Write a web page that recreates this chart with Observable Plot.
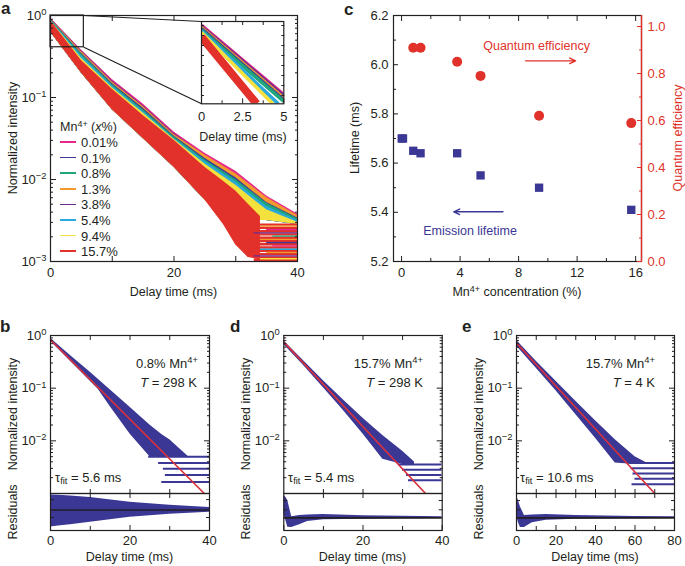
<!DOCTYPE html>
<html>
<head>
<meta charset="utf-8">
<script src="https://cdn.jsdelivr.net/npm/d3@7"></script>
<script src="https://cdn.jsdelivr.net/npm/@observablehq/plot@0.6"></script>
<style>
html,body{margin:0;padding:0;background:#fff;}
#root{position:relative;width:685px;height:566px;overflow:hidden;background:#fff;font-family:"Liberation Sans",Arial,Helvetica,sans-serif;color:#231f20;}
#root sup{font-size:0.72em;line-height:0;vertical-align:0.45em;}
#root sub{font-size:0.72em;line-height:0;vertical-align:-0.25em;}
</style>
</head>
<body>
<div id="root"></div>
<script>
const FONT = '"Liberation Sans", Arial, Helvetica, sans-serif';
const INK = "#231f20", BLUE = "#3b3795", RED = "#e0322a", FITRED = "#d9303c";

// ---------- legend / series ----------
const concLabels = ["0.01%","0.1%","0.8%","1.3%","3.8%","5.4%","9.4%","15.7%"];
const concColors = ["#e5288c","#3c3a9c","#1fa67a","#f39a2c","#6b2c90","#2ba9dc","#f4e13e","#e2312a"];

// ---------- panel a : log10(normalized intensity) envelopes ----------
const aT        = [0, 5, 10, 15, 20, 25, 30, 35, 40];
const aTop001   = [-0.030, -0.42, -0.78, -1.08, -1.42, -1.68, -1.90, -2.20, -2.42];
const aTop38    = [-0.035, -0.43, -0.80, -1.10, -1.44, -1.71, -1.94, -2.24, -2.45];
const aTop13    = [-0.040, -0.44, -0.81, -1.11, -1.45, -1.70, -1.93, -2.22, -2.44];
const aTop01    = [-0.045, -0.46, -0.83, -1.13, -1.47, -1.74, -1.98, -2.28, -2.47];
const aTop08    = [-0.050, -0.47, -0.84, -1.15, -1.48, -1.76, -2.00, -2.29, -2.48];
const aTop54    = [-0.055, -0.49, -0.86, -1.17, -1.50, -1.78, -2.03, -2.33, -2.50];
const aTop94    = [-0.060, -0.52, -0.88, -1.19, -1.51, -1.81, -2.07, -2.37, -2.52];
const aOtherBot = [-0.20, -0.70, -1.15, -1.50, -1.85, -2.25, -2.50, -2.50, -2.55];
const aRedT     = [0, 5, 10, 15, 20, 25, 28, 30, 32, 34];
const aRedTop   = [-0.06, -0.55, -0.90, -1.22, -1.52, -1.85, -2.02, -2.14, -2.30, -2.45];
const aRedBot   = [-0.20, -0.70, -1.15, -1.50, -1.85, -2.25, -2.55, -2.80, -2.95, -2.98];
const aRedStripeV = [0.00282,0.00257,0.00234,0.00214,0.00195,0.00178,0.00162,0.00148,0.00135,0.00123,0.00112,0.00104];
const aRedStripeT = [30,30.5,31,31,31.5,31.5,32,32,32.5,32.5,33,33];
const aOtherStripeV = [0.0027,0.00245,0.00224,0.00204,0.00186,0.0017,0.00155,0.00141,0.00129,0.00117,0.00108];
const aOtherStripeS = ["1.3%","0.01%","3.8%","0.8%","1.3%","0.1%","0.01%","5.4%","1.3%","3.8%","9.4%"];
const aOtherStripeT = [34,35,33,36,34,35,36,34,35,33,34];
const aTmax = 40;

// inset of panel a (linear scale, first 5 ms)
const insetS  = ["0.01%","3.8%","1.3%","0.1%","0.8%","5.4%","9.4%","15.7%"];
const insetV0 = [1.0, 0.99, 0.978, 0.966, 0.955, 0.944, 0.93, 0.885];
const insetT1 = [5, 5, 5, 5, 5, 4.66, 4.33, 3.35];
const insetV1 = [0.307, 0.293, 0.273, 0.253, 0.24, 0.217, 0.217, 0.217];

// ---------- panel c ----------
const cConc     = [0.01, 0.1, 0.8, 1.3, 3.8, 5.4, 9.4, 15.7];
const cLifetime = [5.70, 5.70, 5.65, 5.64, 5.64, 5.55, 5.50, 5.41];
const cQEConc   = [0.8, 1.3, 3.8, 5.4, 9.4, 15.7];
const cQE       = [0.91, 0.91, 0.85, 0.79, 0.62, 0.589];

// ---------- panels b, d, e (log10 envelopes, fit end points, residual envelopes) ----------
const bT  = [0, 5, 10, 12, 15, 20, 25, 28, 30, 35];
const bHi = [-0.05, -0.38, -0.70, -0.83, -1.03, -1.36, -1.70, -1.88, -1.98, -2.32];
const bLo = [-0.11, -0.49, -0.87, -1.02, -1.35, -1.87, -2.30, -2.30, -2.30, -2.32];
const bStripeV = [0.0050, 0.0038, 0.00295, 0.00224, 0.00166];
const bStripeT = [24.7, 27.2, 28.4, 28.9, 28];
const bFitT = [0, 38.7], bFitV = [0.83, 0.001];
const bResT  = [0, 2, 5, 10, 20, 30, 40];
const bResHi = [0.91, 0.90, 0.85, 0.75, 0.47, 0.28, 0.15];
const bResLo = [-1.03, -0.98, -0.90, -0.75, -0.44, -0.26, -0.14];

const dT  = [0, 5, 10, 15, 20, 25, 30, 33];
const dHi = [-0.10, -0.48, -0.86, -1.22, -1.57, -1.90, -2.20, -2.40];
const dLo = [-0.17, -0.57, -0.99, -1.42, -1.87, -2.35, -2.45, -2.45];
const dStripeV = [0.00355, 0.00282, 0.00224, 0.00178];
const dStripeT = [29, 30, 31, 31.5];
const dFitT = [0, 35.8], dFitV = [0.75, 0.001];
const dResT  = [0, 0.5, 1, 2, 4, 6, 10, 20, 30, 40];
const dResHi = [0.92, 0.85, 0.71, 0.05, 0.10, 0.12, 0.14, 0.09, 0.07, 0.05];
const dResLo = [0.16, -0.10, -0.39, -0.40, -0.28, -0.15, -0.08, -0.06, -0.04, -0.03];

const eT  = [0, 10, 20, 30, 40, 50, 60, 66];
const eHi = [-0.09, -0.49, -0.87, -1.25, -1.62, -1.98, -2.30, -2.42];
const eLo = [-0.20, -0.62, -1.05, -1.50, -1.95, -2.42, -2.45, -2.45];
const eStripeV = [0.0038, 0.0030, 0.0024, 0.0019, 0.0015];
const eStripeT = [57, 58, 59, 60, 58.5];
const eFitT = [0, 70], eFitV = [0.72, 0.001];
const eResT  = [0, 1, 2, 4, 8, 15, 30, 60, 80];
const eResHi = [0.92, 0.70, 0.45, 0.10, 0.12, 0.14, 0.10, 0.06, 0.05];
const eResLo = [0.10, -0.20, -0.40, -0.40, -0.20, -0.10, -0.06, -0.04, -0.03];

// ---------- helpers ----------
const root = document.getElementById("root");
const NS = "http://www.w3.org/2000/svg";
function supify(svg) {
  svg.querySelectorAll("text").forEach(t => {
    const s = t.textContent;
    if (s.includes("^")) {
      const [b, e] = s.split("^");
      t.textContent = "";
      const a = document.createElementNS(NS, "tspan"); a.textContent = b;
      const c = document.createElementNS(NS, "tspan"); c.textContent = e;
      c.setAttribute("dy", "-0.5em"); c.setAttribute("font-size", "0.72em");
      t.append(a, c);
    }
  });
}
function mount(svg, left, top) {
  svg.style.position = "absolute"; svg.style.left = left + "px"; svg.style.top = top + "px";
  root.appendChild(svg); supify(svg); return svg;
}
function base(w, h, mL, mR, mT, mB, color = INK) {
  return {width: w, height: h, marginLeft: mL, marginRight: mR, marginTop: mT, marginBottom: mB,
    style: {background: "transparent", fontFamily: FONT, fontSize: "13px", color, overflow: "visible"}};
}
function tk(dim, anchor, ticks, size, fmt = null, gap = 0) {
  const f = dim === "x" ? Plot.axisX : Plot.axisY;
  return f({anchor, ticks, tickSize: -size, tickPadding: gap + size, tickFormat: fmt || (() => ""), label: null, strokeWidth: 1});
}
function label(html, x, y, {anchor = "middle", rotate = 0, color = INK, size = 12.5, weight = 400} = {}) {
  const d = document.createElement("div");
  d.innerHTML = html;
  const tx = anchor === "middle" ? "-50%" : anchor === "end" ? "-100%" : "0";
  d.style.cssText = `position:absolute;left:${x}px;top:${y}px;white-space:nowrap;line-height:1;font-size:${size}px;font-weight:${weight};color:${color};transform:translate(${tx},-50%)${rotate ? ` rotate(${rotate}deg)` : ""};`;
  root.appendChild(d);
}
const pow10 = d => { const e = Math.round(Math.log10(d)); return "10^" + (e === 0 ? "0" : "\u2212" + (-e)); };
const logMajor = [1, 0.1, 0.01, 0.001];
const logMinor = [0.001, 0.01, 0.1].flatMap(d => [2,3,4,5,6,7,8,9].map(k => k * d));
const colorScale = {domain: concLabels, range: concColors};

// ---------- panel a ----------
const INSET = {left: 201, right: 283.3, top: 21, bottom: 103.3};
const sxA = Plot.scale({x: {domain: [0, 40], range: [50, 297]}});
const syA = Plot.scale({y: {type: "log", domain: [1e-3, 1], range: [261, 15]}});
const zoomBox = [{t0: 0, t1: 5.4, v0: 0.41, v1: 1}];
const zoomLinks = [
  {x1: 5.4, y1: 1, x2: sxA.invert(INSET.left), y2: syA.invert(INSET.top)},
  {x1: 5.4, y1: 0.41, x2: sxA.invert(INSET.left), y2: syA.invert(INSET.bottom)}
];
const aSeries = [["0.01%", aTop001], ["3.8%", aTop38], ["1.3%", aTop13], ["0.1%", aTop01],
                 ["0.8%", aTop08], ["5.4%", aTop54], ["9.4%", aTop94]];
const aAreas = aSeries.map(([s, tops]) =>
  Plot.areaY(aT.map((t, i) => ({t, s, lo: 10 ** aOtherBot[i], hi: 10 ** tops[i]})),
    {x: "t", y1: "lo", y2: "hi", fill: "s", clip: true}));
const aRedRows = aRedT.map((t, i) => ({t, s: "15.7%", lo: 10 ** aRedBot[i], hi: 10 ** aRedTop[i]}));
const aRedStripes = aRedStripeV.map((v, i) => ({v, t0: aRedStripeT[i], t1: aTmax, s: "15.7%"}));
const aOtherStripes = aOtherStripeV.map((v, i) => ({v, t0: aOtherStripeT[i], t1: aTmax, s: aOtherStripeS[i]}));

const plotA = Plot.plot({
  ...base(340, 300, 50, 43, 15, 39),
  x: {domain: [0, 40]}, y: {type: "log", domain: [1e-3, 1]}, color: colorScale,
  marks: [
    ...aAreas,
    Plot.areaY(aRedRows, {x: "t", y1: "lo", y2: "hi", fill: "s", clip: true}),
    Plot.ruleY(aRedStripes, {y: "v", x1: "t0", x2: "t1", stroke: "s", strokeWidth: 2.4, clip: true}),
    Plot.ruleY(aOtherStripes, {y: "v", x1: "t0", x2: "t1", stroke: "s", strokeWidth: 1.3, clip: true}),
    Plot.rect(zoomBox, {x1: "t0", x2: "t1", y1: "v0", y2: "v1", fill: "none", stroke: INK, strokeWidth: 1.2}),
    Plot.link(zoomLinks, {x1: "x1", y1: "y1", x2: "x2", y2: "y2", stroke: INK, strokeWidth: 1.2}),
    Plot.frame({stroke: INK, strokeWidth: 1.2}),
    tk("y", "left", logMajor, 6, pow10, 4),
    tk("y", "left", logMinor, 3),
    tk("y", "right", logMajor, 6),
    tk("y", "right", logMinor, 3),
    tk("x", "bottom", [0, 20, 40], 5, d => String(d), 6),
    tk("x", "bottom", [10, 30], 5),
    tk("x", "top", [10, 20, 30], 5)
  ]
});
mount(plotA, 0, 0);

const insetRows = insetS.map((s, i) => [{t: 0, v: insetV0[i], s}, {t: insetT1[i], v: insetV1[i], s}]);
const plotInset = Plot.plot({
  ...base(115, 140, INSET.left - 190, 190 + 115 - INSET.right, INSET.top - 15, 140 - (INSET.bottom - 15)),
  x: {domain: [0, 5]}, y: {domain: [0.217, 1.04]}, color: colorScale,
  marks: [
    Plot.frame({fill: "white", stroke: null}),
    ...insetRows.map(rows => Plot.line(rows, {x: "t", y: "v", stroke: "s",
      strokeWidth: rows[0].s === "15.7%" ? 8 : 3.6, strokeLinecap: "butt", clip: true})),
    Plot.frame({stroke: INK, strokeWidth: 1.2}),
    tk("x", "bottom", [0, 2.5, 5], 5, d => String(d), 8),
    tk("x", "bottom", [1.25, 3.75], 3),
    tk("x", "top", [1.25, 2.5, 3.75], 3),
    tk("y", "left", [0.3, 0.4, 0.5, 0.6, 0.7, 0.8, 0.9, 1.0], 3),
    tk("y", "right", [0.3, 0.4, 0.5, 0.6, 0.7, 0.8, 0.9, 1.0], 3)
  ]
});
mount(plotInset, 190, 15);

label("Normalized intensity", 13, 138, {rotate: -90});
label("Delay time (ms)", 173.5, 291.5);
label("Delay time (ms)", 243, 136.5);
label("Mn<sup>4+</sup> (<i>x</i>%)", 60, 127, {anchor: "start"});
concLabels.forEach((l, i) => {
  const y = 142 + i * 15.6;
  const ln = document.createElement("div");
  ln.style.cssText = `position:absolute;left:60px;top:${y - 0.8}px;width:16px;height:1.6px;background:${concColors[i]};`;
  root.appendChild(ln);
  label(l, 81, y, {anchor: "start", size: 13});
});

// ---------- panel c ----------
const cRows = cConc.map((c, i) => ({c, life: cLifetime[i]}));
const cQERows = cQEConc.map((c, i) => ({c, q: cQE[i]}));
const cArrowEL = [{x1: 6.93, x2: 3.57, y: 5.402}];
const cTextEL = [{x: 4.68, y: 5.322, text: "Emission lifetime"}];
const cArrowQE = [{x1: 8.48, x2: 11.9, y: 0.854}];
const cTextQE = [{x: 9.23, y: 0.918, text: "Quantum efficiency"}];
const cX = {domain: [-0.55, 16.4]};
const f1 = d3.format(".1f");

const plotC = Plot.plot({
  ...base(345, 300, 53, 44, 15, 39),
  x: cX, y: {domain: [5.2, 6.2]},
  marks: [
    Plot.frame({stroke: INK, strokeWidth: 1.2}),
    Plot.dot(cRows, {x: "c", y: "life", symbol: "square", r: 4.7, fill: BLUE}),
    Plot.arrow(cArrowEL, {x1: "x1", x2: "x2", y1: "y", y2: "y", stroke: BLUE, strokeWidth: 1.4, headLength: 7, headAngle: 50}),
    Plot.text(cTextEL, {x: "x", y: "y", text: "text", fill: BLUE, fontSize: 12.5}),
    tk("x", "bottom", [0, 4, 8, 12, 16], 5, d => String(d), 6),
    tk("x", "bottom", [2, 6, 10, 14], 3),
    tk("x", "top", [0, 4, 8, 12, 16], 5),
    tk("x", "top", [2, 6, 10, 14], 3),
    tk("y", "left", [5.2, 5.4, 5.6, 5.8, 6.0, 6.2], 5, f1, 5),
    tk("y", "left", [5.3, 5.5, 5.7, 5.9, 6.1], 3)
  ]
});
mount(plotC, 340, 0);

const plotC2 = Plot.plot({
  ...base(345, 300, 53, 44, 15, 39, RED),
  x: {...cX, axis: null}, y: {domain: [0, 1.047]},
  marks: [
    Plot.ruleX([16.4], {stroke: RED, strokeWidth: 1.4}),
    Plot.dot(cQERows, {x: "c", y: "q", r: 5, fill: RED}),
    Plot.arrow(cArrowQE, {x1: "x1", x2: "x2", y1: "y", y2: "y", stroke: RED, strokeWidth: 1.4, headLength: 7, headAngle: 50}),
    Plot.text(cTextQE, {x: "x", y: "y", text: "text", fill: RED, fontSize: 12.5}),
    tk("y", "right", [0, 0.2, 0.4, 0.6, 0.8, 1.0], 5, f1, 6),
    tk("y", "right", [0.1, 0.3, 0.5, 0.7, 0.9], 3)
  ]
});
mount(plotC2, 340, 0);

label("Lifetime (ms)", 355, 138, {rotate: -90});
label("Quantum efficiency", 678, 138, {rotate: -90, color: RED});
label("Mn<sup>4+</sup> concentration (%)", 517, 291.5);

// ---------- panels b, d, e ----------
function decay(cfg) {
  const {svgLeft, svgWidth, frameL, frameR, xmax, xLab, xMinor, T, Hi, Lo, SV, ST, FT, FV, RT, RHi, RLo, resDomain, resTicks} = cfg;
  const mL = frameL - svgLeft, mR = svgLeft + svgWidth - frameR;
  const band = T.map((t, i) => ({t, lo: 10 ** Lo[i], hi: 10 ** Hi[i]}));
  const stripes = SV.map((v, i) => ({v, t0: ST[i], t1: xmax}));
  const fit = FT.map((t, i) => ({t, v: FV[i]}));
  const res = RT.map((t, i) => ({t, lo: RLo[i], hi: RHi[i]}));
  const allX = [...xLab, ...xMinor].filter(d => d > 0 && d < xmax);
  const main = Plot.plot({
    ...base(svgWidth, 166, mL, mR, 5, 3),
    x: {domain: [0, xmax]}, y: {type: "log", domain: [1e-3, 1]},
    marks: [
      Plot.areaY(band, {x: "t", y1: "lo", y2: "hi", fill: BLUE, clip: true}),
      Plot.ruleY(stripes, {y: "v", x1: "t0", x2: "t1", stroke: BLUE, strokeWidth: 2, clip: true}),
      Plot.line(fit, {x: "t", y: "v", stroke: FITRED, strokeWidth: 1.6, clip: true}),
      Plot.frame({stroke: INK, strokeWidth: 1.2}),
      tk("y", "left", [1, 0.1, 0.01], 6, pow10, 4),
      tk("y", "left", logMinor, 3),
      tk("y", "right", [1, 0.1, 0.01], 6),
      tk("y", "right", logMinor, 3),
      tk("x", "top", allX, 4),
      tk("x", "bottom", allX, 4)
    ]
  });
  mount(main, svgLeft, 330);
  const resid = Plot.plot({
    ...base(svgWidth, 76, mL, mR, 3, 36),
    x: {domain: [0, xmax]}, y: {domain: resDomain},
    marks: [
      Plot.areaY(res, {x: "t", y1: "lo", y2: "hi", fill: BLUE, clip: true}),
      Plot.ruleY([0], {stroke: INK, strokeWidth: 1.6}),
      Plot.frame({stroke: INK, strokeWidth: 1.2}),
      tk("y", "left", resTicks, 4),
      tk("y", "right", resTicks, 4),
      tk("x", "top", allX, 4),
      tk("x", "bottom", xLab, 5, d => String(d), 5),
      tk("x", "bottom", xMinor, 4)
    ]
  });
  mount(resid, svgLeft, 490);
  const yl = frameL - 37;
  label("Normalized intensity", yl, 414, {rotate: -90});
  label("Residuals", yl, 511.5, {rotate: -90});
  label("Delay time (ms)", (frameL + frameR) / 2, 557);
}

decay({svgLeft: 0, svgWidth: 225, frameL: 50, frameR: 209, xmax: 40, xLab: [0, 20, 40], xMinor: [10, 30],
  T: bT, Hi: bHi, Lo: bLo, SV: bStripeV, ST: bStripeT, FT: bFitT, FV: bFitV,
  RT: bResT, RHi: bResHi, RLo: bResLo, resDomain: [-1.25, 1], resTicks: [-0.46, 0.63]});
decay({svgLeft: 228, svgWidth: 228, frameL: 283.3, frameR: 441.7, xmax: 40, xLab: [0, 20, 40], xMinor: [10, 30],
  T: dT, Hi: dHi, Lo: dLo, SV: dStripeV, ST: dStripeT, FT: dFitT, FV: dFitV,
  RT: dResT, RHi: dResHi, RLo: dResLo, resDomain: [-0.52, 1], resTicks: [0.33, 0.71]});
decay({svgLeft: 458, svgWidth: 227, frameL: 516, frameR: 674, xmax: 80, xLab: [0, 20, 40, 60, 80], xMinor: [10, 30, 50, 70],
  T: eT, Hi: eHi, Lo: eLo, SV: eStripeV, ST: eStripeT, FT: eFitT, FV: eFitV,
  RT: eResT, RHi: eResHi, RLo: eResLo, resDomain: [-0.52, 1], resTicks: [0.33, 0.71]});

// annotations
label("0.8% Mn<sup>4+</sup>", 198, 363, {anchor: "end", size: 13});
label("<i>T</i> = 298 K", 197, 382, {anchor: "end", size: 13});
label("τ<sub>fit</sub> = 5.6 ms", 55, 477, {anchor: "start", size: 13});
label("15.7% Mn<sup>4+</sup>", 423, 363, {anchor: "end", size: 13});
label("<i>T</i> = 298 K", 423, 382, {anchor: "end", size: 13});
label("τ<sub>fit</sub> = 5.4 ms", 288, 477, {anchor: "start", size: 13});
label("15.7% Mn<sup>4+</sup>", 655, 363, {anchor: "end", size: 13});
label("<i>T</i> = 4 K", 655, 382, {anchor: "end", size: 13});
label("τ<sub>fit</sub> = 10.6 ms", 520, 477, {anchor: "start", size: 13});

// panel letters
label("a", 1, 8, {anchor: "start", size: 17, weight: 700});
label("c", 344, 9, {anchor: "start", size: 17, weight: 700});
label("b", 0, 326, {anchor: "start", size: 17, weight: 700});
label("d", 230, 326, {anchor: "start", size: 17, weight: 700});
label("e", 462, 326, {anchor: "start", size: 17, weight: 700});
</script>
</body>
</html>
